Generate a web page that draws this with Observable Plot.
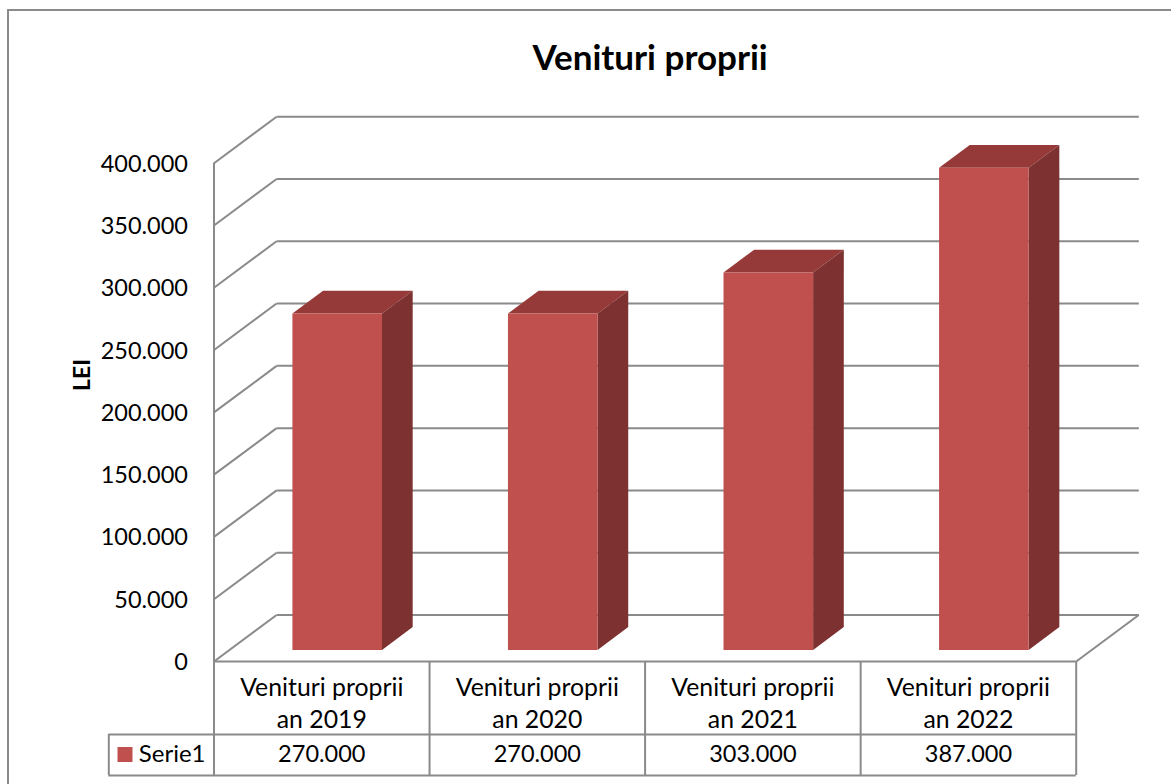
<!DOCTYPE html>
<html>
<head>
<meta charset="utf-8">
<script src="https://cdn.jsdelivr.net/npm/d3@7"></script>
<script src="https://cdn.jsdelivr.net/npm/@observablehq/plot@0.6"></script>
<style>
  html, body { margin: 0; padding: 0; background: #fff; overflow: hidden; }
  #chart { position: relative; width: 1171px; height: 784px; overflow: hidden; }
  #chart svg { position: absolute; left: 0; top: 0; }
  #frame { position: absolute; left: 7px; top: 9px; width: 1200px; height: 800px;
           border-left: 2px solid #8a8a8a; border-top: 2px solid #8a8a8a; }
</style>
</head>
<body>
<div id="chart"><div id="frame"></div></div>
<script>
const categories = ["Venituri proprii\nan 2019", "Venituri proprii\nan 2020", "Venituri proprii\nan 2021", "Venituri proprii\nan 2022"];
const values = [270000, 270000, 303000, 387000];
const valueLabels = ["270.000", "270.000", "303.000", "387.000"];
const tickValues = [0, 50000, 100000, 150000, 200000, 250000, 300000, 350000, 400000];
const tickLabels = ["0", "50.000", "100.000", "150.000", "200.000", "250.000", "300.000", "350.000", "400.000"];
const seriesName = "Serie1";
const title = "Venituri proprii";
const yTitle = "LEI";

// Layout of the oblique projection (in scale units)
const perPx = 400000 / 498.3;
const depthX = 62.6 / 215.55;      // category units for full floor depth
const depthY = 46.5 * perPx;       // value units for full floor depth
const barWidth = 89.6 / 215.55;
const barGap = (1 - barWidth) / 2 - 0.001;
const depth0 = 0.25, depth1 = 0.74;
const project = (c, v, d) => ({x: c + d * depthX, y: v + d * depthY});

const gridColor = "#8a8a8a", gridW = 2;
const font = "Lato, Carlito, sans-serif";

// Walls
const wallLinks = tickValues.map(v => ({a: project(0, v, 0), b: project(0, v, 1)}));
const backRules = tickValues.map(v => ({a: project(0, v, 1), b: project(4, v, 1)}));
const floorEdge = [{a: project(4, 0, 0), b: project(4, 0, 1)}];

// Bars
const faces = [];
values.forEach((v, i) => {
  const l = i + barGap, r = l + barWidth;
  const poly = (face, pts) => pts.forEach(p => faces.push({face, key: face + i, ...project(...p)}));
  poly("top", [[l, v, depth0], [r, v, depth0], [r, v, depth1], [l, v, depth1]]);
  poly("side", [[r, 0, depth0], [r, v, depth0], [r, v, depth1], [r, 0, depth1]]);
  poly("front", [[l, 0, depth0], [r, 0, depth0], [r, v, depth0], [l, v, depth0]]);
});
const faceOf = f => faces.filter(d => d.face === f);

// Data table rows, in scale units below the zero line
const rowHead = -73 * perPx, rowEnd = -114 * perPx;
const legendLeft = -105.2 / 215.55;
const cols = d3.range(5);
const idx = d3.range(4);

const plot = Plot.plot({
  width: 1171, height: 784,
  marginTop: 0, marginRight: 0, marginBottom: 0, marginLeft: 0,
  style: {background: "transparent", fontFamily: font},
  x: {type: "linear", domain: [0, 4], range: [213.5, 1075.7], axis: null},
  y: {type: "linear", domain: [0, 400000], range: [661, 162.7], axis: null},
  marks: [
    // walls & floor
    Plot.link(wallLinks, {x1: d => d.a.x, y1: d => d.a.y, x2: d => d.b.x, y2: d => d.b.y, stroke: gridColor, strokeWidth: gridW}),
    Plot.link(backRules, {x1: d => d.a.x, y1: d => d.a.y, x2: d => d.b.x, y2: d => d.b.y, stroke: gridColor, strokeWidth: gridW}),
    Plot.link(floorEdge, {x1: d => d.a.x, y1: d => d.a.y, x2: d => d.b.x, y2: d => d.b.y, stroke: gridColor, strokeWidth: gridW}),
    Plot.ruleX([0], {y1: 0, y2: 400000, stroke: gridColor, strokeWidth: gridW}),
    // bars
    Plot.line(faceOf("top"), {x: "x", y: "y", z: "key", fill: "#953a38", stroke: "none"}),
    Plot.line(faceOf("side"), {x: "x", y: "y", z: "key", fill: "#7d3130", stroke: "none"}),
    Plot.line(faceOf("front"), {x: "x", y: "y", z: "key", fill: "#c0504d", stroke: "none"}),
    // y axis labels
    Plot.text(tickValues, {x: 0, y: d => d, text: (d, i) => tickLabels[i], textAnchor: "end", dx: -26, dy: 1, fontSize: 23.5, fill: "#000"}),
    Plot.text([yTitle], {x: 0, y: 230000, text: d => d, rotate: -90, dx: -131, fontSize: 23, fontWeight: "bold", fill: "#000"}),
    // title
    Plot.text([title], {x: 2, y: 400000, text: d => d, dx: 5, dy: -104, fontSize: 35, fontWeight: "bold", fill: "#000"}),
    // data table lines
    Plot.ruleY([0], {x1: 0, x2: 4, stroke: gridColor, strokeWidth: gridW}),
    Plot.ruleY([rowHead, rowEnd], {x1: legendLeft, x2: 4, stroke: gridColor, strokeWidth: gridW}),
    Plot.ruleX(cols, {y1: 0, y2: rowEnd, stroke: gridColor, strokeWidth: gridW}),
    Plot.ruleX([legendLeft], {y1: rowHead, y2: rowEnd, stroke: gridColor, strokeWidth: gridW}),
    // data table text
    Plot.text(idx, {x: d => d + 0.5, y: rowHead, text: d => categories[d], dy: -33, lineHeight: 1.29, fontSize: 24.8, fill: "#000"}),
    Plot.text(idx, {x: d => d + 0.5, y: rowHead, text: d => valueLabels[d], dy: 19.5, fontSize: 23.5, fill: "#000"}),
    // legend key
    Plot.dot([seriesName], {x: legendLeft, y: rowHead, dx: 16.2, dy: 20, symbol: "square", r: 8.46, fill: "#c0504d", stroke: "none"}),
    Plot.text([seriesName], {x: legendLeft, y: rowHead, text: d => d, textAnchor: "start", dx: 30, dy: 19.5, fontSize: 24, fill: "#000"})
  ]
});
document.getElementById("chart").appendChild(plot);
</script>
</body>
</html>
